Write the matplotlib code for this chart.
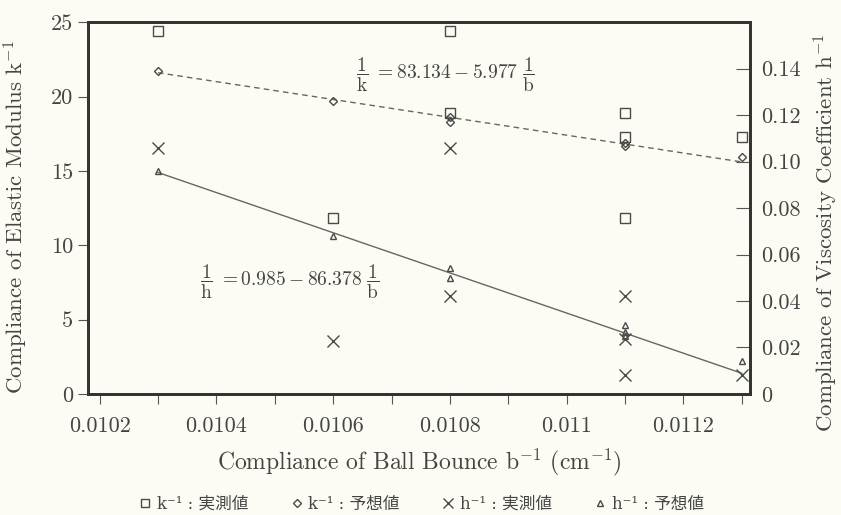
import matplotlib
matplotlib.use("Agg")
import matplotlib.pyplot as plt
from matplotlib.lines import Line2D
from matplotlib.ticker import FixedLocator, FixedFormatter

plt.rcParams["font.family"] = ["cmr10", "DejaVu Serif", "Noto Sans CJK JP"]
plt.rcParams["mathtext.fontset"] = "cm"
plt.rcParams["axes.unicode_minus"] = False

# k^-1 measured (squares) / predicted (diamonds), left axis
k_meas_x = [0.0103, 0.0106, 0.0108, 0.0108, 0.0111, 0.0111, 0.0111, 0.0113]
k_meas_y = [24.4, 11.8, 24.4, 18.9, 18.9, 17.3, 11.8, 17.3]
k_pred_x = [0.0103, 0.0106, 0.0108, 0.0108, 0.0111, 0.0111, 0.0113]
k_pred_y = [21.7, 19.7, 18.6, 18.3, 16.9, 16.7, 15.9]

# h^-1 measured (crosses) / predicted (triangles), right axis
h_meas_x = [0.0103, 0.0106, 0.0108, 0.0108, 0.0111, 0.0111, 0.0111, 0.0113]
h_meas_y = [0.106, 0.023, 0.106, 0.042, 0.042, 0.0236, 0.008, 0.008]
h_pred_x = [0.0103, 0.0106, 0.0108, 0.0108, 0.0111, 0.0111, 0.0111, 0.0113]
h_pred_y = [0.096, 0.068, 0.054, 0.050, 0.0296, 0.0265, 0.025, 0.014]

# regression lines (end points)
fit_x = [0.0103, 0.0113]
k_fit = [21.6, 15.6]
h_fit = [0.0953, 0.0089]

x_major = [0.0102, 0.0104, 0.0106, 0.0108, 0.0110, 0.0112]
x_labels = ["0.0102", "0.0104", "0.0106", "0.0108", "0.011", "0.0112"]
x_minor = [0.0103, 0.0105, 0.0107, 0.0109, 0.0111, 0.0113]
left_ticks = [0, 5, 10, 15, 20, 25]
right_ticks = [0, 0.02, 0.04, 0.06, 0.08, 0.10, 0.12, 0.14]
right_labels = ["0", "0.02", "0.04", "0.06", "0.08", "0.10", "0.12", "0.14"]
legend_labels = ["k⁻¹ : 実測値", "k⁻¹ : 予想値", "h⁻¹ : 実測値", "h⁻¹ : 予想値"]

bg = "#fcfcf4"
mc = "#4a4a4a"
tc = "#444444"

fig = plt.figure(figsize=(8.41, 5.15), dpi=100, facecolor=bg)
ax = fig.add_axes([0.1046, 0.235, 0.7872, 0.722])
ax.set_facecolor(bg)
ax2 = ax.twinx()

ax.plot(fit_x, k_fit, ls=(0, (4, 3)), color="#666666", lw=1.0)
ax.plot(k_meas_x, k_meas_y, ls="none", marker="s", ms=7, mfc="none", mec=mc, mew=1.0)
ax.plot(k_pred_x, k_pred_y, ls="none", marker="D", ms=4.5, mfc="none", mec=mc, mew=1.0)
ax2.plot(fit_x, h_fit, ls="-", color="#666666", lw=1.0)
ax2.plot(h_meas_x, h_meas_y, ls="none", marker="x", ms=8, mec=mc, mew=1.0)
ax2.plot(h_pred_x, h_pred_y, ls="none", marker="^", ms=4.5, mfc="none", mec=mc, mew=1.0)

ax.set_xlim(0.01018, 0.011314)
ax.set_ylim(0, 25)
ax2.set_ylim(0, 0.16)

ax.xaxis.set_major_locator(FixedLocator(x_major))
ax.xaxis.set_major_formatter(FixedFormatter(x_labels))
ax.xaxis.set_minor_locator(FixedLocator(x_minor))
ax.set_yticks(left_ticks)
ax.set_yticklabels([str(t) for t in left_ticks])
ax2.yaxis.set_major_locator(FixedLocator(right_ticks))
ax2.yaxis.set_major_formatter(FixedFormatter(right_labels))

ax.tick_params(axis="x", which="both", direction="out", length=7, width=0.8,
               labelsize=16, colors="#555555", labelcolor=tc, pad=9)
ax.tick_params(axis="y", direction="out", length=7, width=0.8,
               labelsize=16, colors="#555555", labelcolor=tc)
ax2.tick_params(axis="y", direction="in", length=10, width=0.8,
                labelsize=16, colors="#555555", labelcolor=tc, pad=8)

for a in (ax, ax2):
    for s in a.spines.values():
        s.set_linewidth(2.0)
        s.set_color("#333333")

ax.set_xlabel("Compliance of Ball Bounce b$^{-1}$ (cm$^{-1}$)", fontsize=17,
              color=tc, labelpad=8)
ax.set_ylabel("Compliance of Elastic Modulus k$^{-1}$", fontsize=16.5, color=tc)
ax.yaxis.set_label_coords(-0.088, 0.476)
ax2.set_ylabel("Compliance of Viscosity Coefficient h$^{-1}$", fontsize=16.5, color=tc)
ax2.yaxis.set_label_coords(1.093, 0.433)

ax.text(0.405, 0.857, r"$\dfrac{1}{\mathrm{k}}\ =83.134-5.977\ \dfrac{1}{\mathrm{b}}$",
        transform=ax.transAxes, fontsize=14, color=tc, va="center")
ax.text(0.169, 0.30, r"$\dfrac{1}{\mathrm{h}}\ =0.985-86.378\ \dfrac{1}{\mathrm{b}}$",
        transform=ax.transAxes, fontsize=14, color=tc, va="center")

handles = [
    Line2D([], [], ls="none", marker="s", ms=6, mfc="none", mec=mc),
    Line2D([], [], ls="none", marker="D", ms=4, mfc="none", mec=mc),
    Line2D([], [], ls="none", marker="x", ms=7, mec=mc),
    Line2D([], [], ls="none", marker="^", ms=4, mfc="none", mec=mc),
]
fig.legend(handles, legend_labels, loc="lower center", bbox_to_anchor=(0.5, -0.025), ncol=4,
           frameon=False, prop={"family": ["DejaVu Serif", "Noto Sans CJK JP"], "size": 12},
           handletextpad=0.2, columnspacing=2.4, handlelength=1.0, labelcolor=tc)

fig.savefig("out.png", dpi=100, facecolor=bg)
